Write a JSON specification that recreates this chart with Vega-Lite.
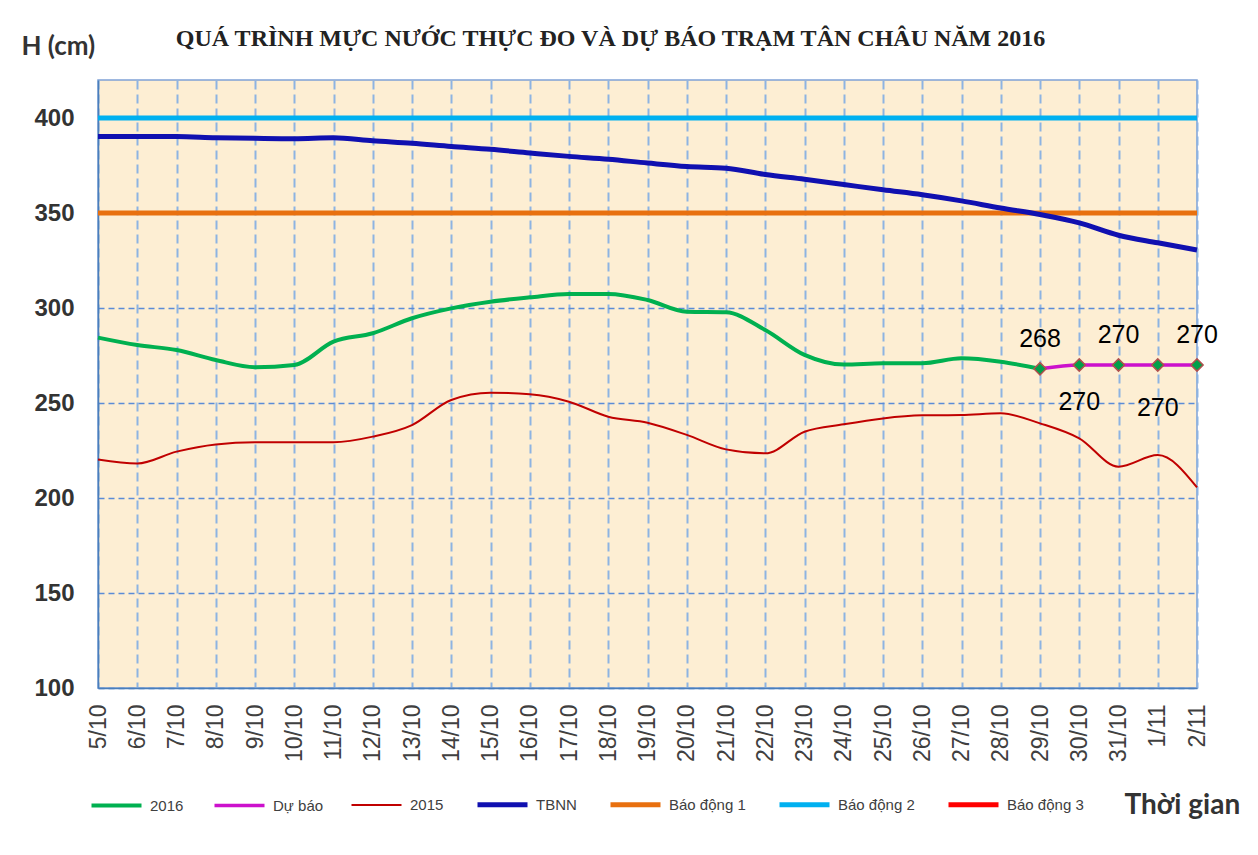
{
  "$schema": "https://vega.github.io/schema/vega-lite/v6.json",
  "width": 1099,
  "height": 608,
  "autosize": "none",
  "padding": {"left": 98, "top": 80, "right": 61, "bottom": 167},
  "background": "white",
  "config": {
    "view": {"fill": "#FDEED3", "stroke": "#7FA1D6", "strokeWidth": 1.5},
    "font": "Liberation Sans"
  },
  "title": {
    "text": "QUÁ TRÌNH MỰC NƯỚC THỰC ĐO VÀ DỰ BÁO TRẠM TÂN CHÂU NĂM 2016",
    "font": "Liberation Serif",
    "fontSize": 24,
    "fontWeight": "bold",
    "color": "#222222",
    "anchor": "middle",
    "baseline": "alphabetic",
    "dx": -37,
    "dy": 65,
    "offset": 28
  },
  "data": {
    "values": [
      {"date": "5/10", "series": "TBNN", "value": 390.2},
      {"date": "6/10", "series": "TBNN", "value": 390.2},
      {"date": "7/10", "series": "TBNN", "value": 390.2},
      {"date": "8/10", "series": "TBNN", "value": 389.6},
      {"date": "9/10", "series": "TBNN", "value": 389.3},
      {"date": "10/10", "series": "TBNN", "value": 389.1},
      {"date": "11/10", "series": "TBNN", "value": 389.6},
      {"date": "12/10", "series": "TBNN", "value": 388},
      {"date": "13/10", "series": "TBNN", "value": 386.7},
      {"date": "14/10", "series": "TBNN", "value": 385},
      {"date": "15/10", "series": "TBNN", "value": 383.5},
      {"date": "16/10", "series": "TBNN", "value": 381.6},
      {"date": "17/10", "series": "TBNN", "value": 379.8},
      {"date": "18/10", "series": "TBNN", "value": 378.3},
      {"date": "19/10", "series": "TBNN", "value": 376.3},
      {"date": "20/10", "series": "TBNN", "value": 374.5},
      {"date": "21/10", "series": "TBNN", "value": 373.6},
      {"date": "22/10", "series": "TBNN", "value": 370.3},
      {"date": "23/10", "series": "TBNN", "value": 367.8},
      {"date": "24/10", "series": "TBNN", "value": 365},
      {"date": "25/10", "series": "TBNN", "value": 362.2},
      {"date": "26/10", "series": "TBNN", "value": 359.6},
      {"date": "27/10", "series": "TBNN", "value": 356.4},
      {"date": "28/10", "series": "TBNN", "value": 352.6},
      {"date": "29/10", "series": "TBNN", "value": 349.2},
      {"date": "30/10", "series": "TBNN", "value": 344.8},
      {"date": "31/10", "series": "TBNN", "value": 338.3},
      {"date": "1/11", "series": "TBNN", "value": 334.3},
      {"date": "2/11", "series": "TBNN", "value": 330.5},

      {"date": "5/10", "series": "2016", "value": 284.4},
      {"date": "6/10", "series": "2016", "value": 280.5},
      {"date": "7/10", "series": "2016", "value": 277.9},
      {"date": "8/10", "series": "2016", "value": 272.6},
      {"date": "9/10", "series": "2016", "value": 268.8},
      {"date": "10/10", "series": "2016", "value": 270},
      {"date": "11/10", "series": "2016", "value": 282.3},
      {"date": "12/10", "series": "2016", "value": 286.7},
      {"date": "13/10", "series": "2016", "value": 294.6},
      {"date": "14/10", "series": "2016", "value": 299.8},
      {"date": "15/10", "series": "2016", "value": 303.3},
      {"date": "16/10", "series": "2016", "value": 305.6},
      {"date": "17/10", "series": "2016", "value": 307.4},
      {"date": "18/10", "series": "2016", "value": 307.4},
      {"date": "19/10", "series": "2016", "value": 304.2},
      {"date": "20/10", "series": "2016", "value": 298},
      {"date": "21/10", "series": "2016", "value": 297.7},
      {"date": "22/10", "series": "2016", "value": 288.4},
      {"date": "23/10", "series": "2016", "value": 275.3},
      {"date": "24/10", "series": "2016", "value": 270.2},
      {"date": "25/10", "series": "2016", "value": 270.9},
      {"date": "26/10", "series": "2016", "value": 270.9},
      {"date": "27/10", "series": "2016", "value": 273.5},
      {"date": "28/10", "series": "2016", "value": 271.7},
      {"date": "29/10", "series": "2016", "value": 268},

      {"date": "5/10", "series": "2015", "value": 220.3},
      {"date": "6/10", "series": "2015", "value": 218.2},
      {"date": "7/10", "series": "2015", "value": 224.4},
      {"date": "8/10", "series": "2015", "value": 228.2},
      {"date": "9/10", "series": "2015", "value": 229.3},
      {"date": "10/10", "series": "2015", "value": 229.3},
      {"date": "11/10", "series": "2015", "value": 229.3},
      {"date": "12/10", "series": "2015", "value": 232.3},
      {"date": "13/10", "series": "2015", "value": 238.4},
      {"date": "14/10", "series": "2015", "value": 251.6},
      {"date": "15/10", "series": "2015", "value": 255.4},
      {"date": "16/10", "series": "2015", "value": 254.6},
      {"date": "17/10", "series": "2015", "value": 250.7},
      {"date": "18/10", "series": "2015", "value": 242.8},
      {"date": "19/10", "series": "2015", "value": 239.6},
      {"date": "20/10", "series": "2015", "value": 233.2},
      {"date": "21/10", "series": "2015", "value": 225.6},
      {"date": "22/10", "series": "2015", "value": 223.5},
      {"date": "23/10", "series": "2015", "value": 234.9},
      {"date": "24/10", "series": "2015", "value": 238.8},
      {"date": "25/10", "series": "2015", "value": 241.9},
      {"date": "26/10", "series": "2015", "value": 243.5},
      {"date": "27/10", "series": "2015", "value": 243.7},
      {"date": "28/10", "series": "2015", "value": 244.6},
      {"date": "29/10", "series": "2015", "value": 239.3},
      {"date": "30/10", "series": "2015", "value": 231.4},
      {"date": "31/10", "series": "2015", "value": 216.5},
      {"date": "1/11", "series": "2015", "value": 222.6},
      {"date": "2/11", "series": "2015", "value": 205.6},

      {"date": "29/10", "series": "Dự báo", "value": 268},
      {"date": "30/10", "series": "Dự báo", "value": 270},
      {"date": "31/10", "series": "Dự báo", "value": 270},
      {"date": "1/11", "series": "Dự báo", "value": 270},
      {"date": "2/11", "series": "Dự báo", "value": 270},

      {"date": "5/10", "series": "Báo động 1", "value": 350},
      {"date": "2/11", "series": "Báo động 1", "value": 350},
      {"date": "5/10", "series": "Báo động 2", "value": 400},
      {"date": "2/11", "series": "Báo động 2", "value": 400}
    ]
  },
  "encoding": {
    "x": {
      "field": "date",
      "type": "ordinal",
      "sort": null,
      "scale": {
        "type": "point",
        "padding": 0,
        "domain": ["5/10","6/10","7/10","8/10","9/10","10/10","11/10","12/10","13/10","14/10","15/10","16/10","17/10","18/10","19/10","20/10","21/10","22/10","23/10","24/10","25/10","26/10","27/10","28/10","29/10","30/10","31/10","1/11","2/11"]
      },
      "axis": {
        "title": "Thời gian",
        "titleFont": "Lato",
        "titleFontSize": 28,
        "titleFontWeight": "bold",
        "titleColor": "#333333",
        "titleX": 1026,
        "titleY": 125,
        "titleAlign": "left",
        "titleBaseline": "alphabetic",
        "labelAngle": -90,
        "labelFont": "Liberation Sans",
        "labelFontSize": 23,
        "labelColor": "#404040",
        "labelPadding": 16,
        "ticks": false,
        "domainColor": "#4A7EBB",
        "domainWidth": 1.5,
        "grid": true,
        "gridColor": "#8DB3E2",
        "gridDash": [9, 5],
        "gridWidth": 2
      }
    },
    "y": {
      "field": "value",
      "type": "quantitative",
      "scale": {"domain": [100, 420], "nice": false, "zero": false},
      "axis": {
        "title": "H (cm)",
        "titleAngle": 0,
        "titleX": -77,
        "titleY": -26,
        "titleAlign": "left",
        "titleBaseline": "alphabetic",
        "titleFont": "Lato",
        "titleFontSize": 26,
        "titleFontWeight": "bold",
        "titleColor": "#333333",
        "values": [100, 150, 200, 250, 300, 350, 400],
        "labelFont": "Liberation Sans",
        "labelFontSize": 24,
        "labelFontWeight": "bold",
        "labelColor": "#333333",
        "labelPadding": 24,
        "ticks": false,
        "domainColor": "#4A7EBB",
        "domainWidth": 1.5,
        "grid": true,
        "gridColor": "#5B8CD7",
        "gridDash": [6, 4],
        "gridWidth": 1.5
      }
    },
    "color": {
      "field": "series",
      "type": "nominal",
      "scale": {
        "domain": ["2016", "Dự báo", "2015", "TBNN", "Báo động 1", "Báo động 2", "Báo động 3"],
        "range": ["#00B050", "#CC11CC", "#C00000", "#1010B0", "#E8700F", "#00B0F0", "#FF0000"]
      },
      "legend": {
        "orient": "none",
        "legendX": -9,
        "legendY": 697,
        "direction": "horizontal",
        "columns": 7,
        "title": null,
        "symbolType": "stroke",
        "symbolSize": 2500,
        "labelFont": "Liberation Sans",
        "labelFontSize": 15,
        "labelColor": "#404040",
        "columnPadding": 23,
        "labelOffset": 6
      }
    },
    "strokeWidth": {
      "field": "series",
      "type": "nominal",
      "scale": {
        "type": "ordinal",
        "domain": ["2016", "Dự báo", "2015", "TBNN", "Báo động 1", "Báo động 2", "Báo động 3"],
        "range": [4, 3.5, 2, 5, 5, 5, 5]
      }
    }
  },
  "layer": [
    {
      "transform": [{"filter": "datum.series === 'Báo động 2'"}],
      "mark": {"type": "line"}
    },
    {
      "transform": [{"filter": "datum.series === 'Báo động 1'"}],
      "mark": {"type": "line"}
    },
    {
      "transform": [{"filter": "datum.series === 'TBNN'"}],
      "mark": {"type": "line", "interpolate": "monotone"}
    },
    {
      "transform": [{"filter": "datum.series === '2016'"}],
      "mark": {"type": "line", "interpolate": "monotone"}
    },
    {
      "transform": [{"filter": "datum.series === '2015'"}],
      "mark": {"type": "line", "interpolate": "monotone"}
    },
    {
      "transform": [{"filter": "datum.series === 'Dự báo'"}],
      "mark": {"type": "line", "interpolate": "monotone"}
    },
    {
      "transform": [{"filter": "datum.series === 'Dự báo'"}],
      "mark": {"type": "point", "shape": "diamond", "filled": true, "fill": "#00A04A", "stroke": "#B0504D", "size": 150, "opacity": 1},
      "encoding": {"color": {"value": "#00A04A"}, "strokeWidth": {"value": 1.5}}
    },
    {
      "transform": [{"filter": "datum.series === 'Dự báo' && (datum.date === '29/10' || datum.date === '31/10' || datum.date === '2/11')"}],
      "mark": {"type": "text", "font": "Liberation Sans", "fontSize": 25, "dy": -30, "baseline": "middle"},
      "encoding": {"text": {"field": "value", "type": "quantitative"}, "color": {"value": "#000000"}, "strokeWidth": {"value": 0}}
    },
    {
      "transform": [{"filter": "datum.series === 'Dự báo' && datum.date === '30/10'"}],
      "mark": {"type": "text", "font": "Liberation Sans", "fontSize": 25, "dy": 37, "baseline": "middle"},
      "encoding": {"text": {"field": "value", "type": "quantitative"}, "color": {"value": "#000000"}, "strokeWidth": {"value": 0}}
    },
    {
      "transform": [{"filter": "datum.series === 'Dự báo' && datum.date === '1/11'"}],
      "mark": {"type": "text", "font": "Liberation Sans", "fontSize": 25, "dy": 43, "baseline": "middle"},
      "encoding": {"text": {"field": "value", "type": "quantitative"}, "color": {"value": "#000000"}, "strokeWidth": {"value": 0}}
    }
  ]
}
